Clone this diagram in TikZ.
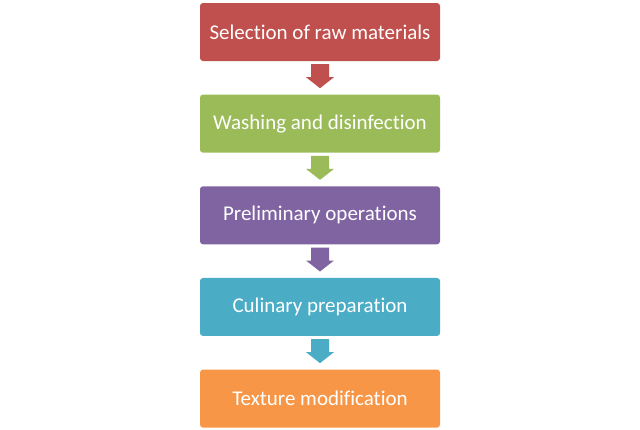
\documentclass[tikz,border=0pt]{standalone}
\usepackage{fontspec}
\setmainfont[Ligatures={NoCommon}]{Carlito}
\usepackage{xcolor}
\usepackage{tikz}
\usetikzlibrary{calc, positioning}

\definecolor{stepred}{HTML}{C0504D}
\definecolor{stepgreen}{HTML}{9BBB59}
\definecolor{steppurple}{HTML}{8064A2}
\definecolor{stepblue}{HTML}{4BACC6}
\definecolor{steporange}{HTML}{F79646}

% block arrow under a step box
\newcommand{\stepArrow}[2]{%
  \fill[#2] ($(#1.south)+(-9,3)$) -- ++(18,0) -- ++(0,13) -- ++(5,0)
    -- ++(-14,11) -- ++(-14,-11) -- ++(5,0) -- cycle;}

\begin{document}
\begin{tikzpicture}[x=1pt,y=-1pt,node distance=33.25pt,
                    step box/.style={rectangle,rounded corners=3pt,minimum width=240pt,
                      minimum height=58pt,text=white,font=\fontsize{21}{24}\selectfont}]

 \useasboundingbox (0,0) rectangle (640,429);

 \node[step box,fill=stepred] (s1) at (320,32) {Selection of raw materials};
 \node[step box,fill=stepgreen] (s2) [below=of s1] {Washing and disinfection};
 \node[step box,fill=steppurple] (s3) [below=of s2] {Preliminary operations};
 \node[step box,fill=stepblue] (s4) [below=of s3] {Culinary preparation};
 \node[step box,fill=steporange] (s5) [below=of s4] {Texture modification};

 \stepArrow{s1}{stepred}
 \stepArrow{s2}{stepgreen}
 \stepArrow{s3}{steppurple}
 \stepArrow{s4}{stepblue}

\end{tikzpicture}
\end{document}
